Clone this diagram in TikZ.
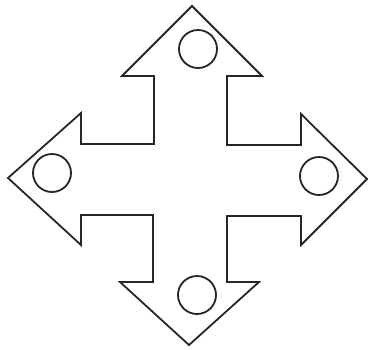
\documentclass[tikz,border=0pt]{standalone}
\usetikzlibrary{positioning}
\tikzset{
    crossline/.style={draw=black!85, line width=1.8pt, line join=miter},
    hole/.style={circle, draw=black!85, line width=1.8pt, minimum size=38pt, inner sep=0pt}
}

\begin{document}
\begin{tikzpicture}[x=1pt,y=-1pt]
\useasboundingbox (0,0) rectangle (370,349);

% cross of four arrows
\draw[crossline] (192,6) -- (262,76) -- (227,76) -- (227,145) -- (301,145) -- (301,114)
    -- (367,179) -- (301,245) -- (301,216) -- (227,216) -- (227,282) -- (259,282)
    -- (189,345) -- (120,282) -- (153,282) -- (153,215) -- (81,215) -- (81,245)
    -- (8,178) -- (81,113) -- (81,144) -- (154,144) -- (154,76) -- (122,76) -- cycle;

\node[hole] (holetop) at (198,49) {};
\node[hole] (holeleft) at (52,173) {};
\node[hole] (holeright) at (319,176) {};
\node[hole] (holebottom) at (197,295) {};

\end{tikzpicture}
\end{document}
